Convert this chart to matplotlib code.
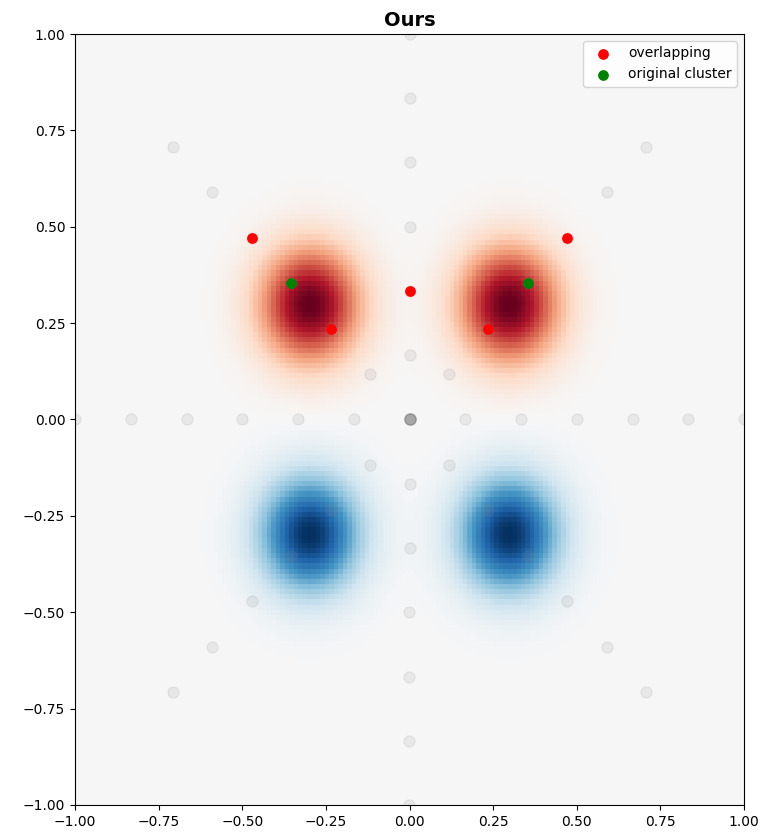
import numpy as np
import matplotlib
matplotlib.use('Agg')
import matplotlib.pyplot as plt

# field: four gaussian bumps, positive on top, negative below
centers_x = [-0.3, 0.3, -0.3, 0.3]
centers_y = [0.3, 0.3, -0.3, -0.3]
amplitudes = [1.0, 1.0, -1.0, -1.0]
width = 0.105
grid_n = 150

# background sample grid (rings x spokes)
radii = [0.0, 1/6, 2/6, 3/6, 4/6, 5/6, 1.0]
angles_deg = [0, 45, 90, 135, 180, 225, 270, 315]

# highlighted points
overlap_x = [-0.471, 0.471, 0.0, -0.236, 0.236]
overlap_y = [0.471, 0.471, 0.333, 0.236, 0.236]
cluster_x = [-0.354, 0.354]
cluster_y = [0.354, 0.354]

xs = np.linspace(-1, 1, grid_n)
ys = np.linspace(-1, 1, grid_n)
X, Y = np.meshgrid(xs, ys)
Z = np.zeros_like(X)
for cx, cy, a in zip(centers_x, centers_y, amplitudes):
	Z += a*np.exp(-((X-cx)**2+(Y-cy)**2)/(2*width**2))

fig = plt.figure(figsize=(7.74, 8.32), dpi=100)
ax = fig.add_axes([75/774, 1-805/832, 669/774, 771/832])

m = np.abs(Z).max()
ax.imshow(Z, extent=[-1, 1, -1, 1], origin='lower', cmap='RdBu_r',
		  vmin=-m, vmax=m, aspect='auto', interpolation='nearest')

R, A = np.meshgrid(radii, np.deg2rad(angles_deg))
gx = (R*np.cos(A)).ravel()
gy = (R*np.sin(A)).ravel()
ax.plot(gx, gy, 'o', color='grey', alpha=0.12, markersize=8)

ax.scatter(overlap_x, overlap_y, color='red', s=45, label='overlapping', zorder=3)
ax.scatter(cluster_x, cluster_y, color='green', s=45, label='original cluster', zorder=3)

ax.set_xlim(-1, 1)
ax.set_ylim(-1, 1)
ax.set_xticks(np.arange(-1, 1.01, 0.25))
ax.set_yticks(np.arange(-1, 1.01, 0.25))
ax.set_title('Ours', fontsize=14, fontweight='bold')
ax.legend(loc='upper right', scatterpoints=1)

fig.savefig('out.png', dpi=100)
